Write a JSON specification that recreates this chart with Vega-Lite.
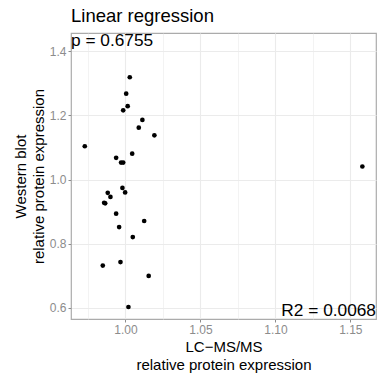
{
  "$schema": "https://vega.github.io/schema/vega-lite/v6.json",
  "width": 305,
  "height": 286,
  "autosize": {"type": "none"},
  "padding": {"left": 71, "top": 33, "right": 9, "bottom": 57},
  "background": "white",
  "title": {
    "text": "Linear regression",
    "anchor": "start",
    "frame": "group",
    "fontSize": 18.5,
    "fontWeight": "normal",
    "font": "Liberation Sans",
    "color": "black",
    "offset": 7
  },
  "config": {
    "view": {"stroke": "#ababab", "strokeWidth": 1.2},
    "axis": {
      "domain": false,
      "labelFont": "Liberation Sans",
      "labelFontSize": 12,
      "labelColor": "#8c8c8c",
      "tickColor": "#8c8c8c",
      "tickSize": 3,
      "labelPadding": 2,
      "gridColor": "#ebebeb",
      "titleFont": "Liberation Sans",
      "titleFontSize": 15,
      "titleFontWeight": "normal",
      "titleColor": "black",
      "titleLineHeight": 18
    }
  },
  "data": {
    "values": [
      {"lcms": 1.0029, "wb": 1.319},
      {"lcms": 1.0005, "wb": 1.268},
      {"lcms": 1.0015, "wb": 1.229},
      {"lcms": 0.9985, "wb": 1.216},
      {"lcms": 1.0113, "wb": 1.186},
      {"lcms": 1.0089, "wb": 1.162},
      {"lcms": 1.0193, "wb": 1.138},
      {"lcms": 0.9729, "wb": 1.104},
      {"lcms": 1.0045, "wb": 1.081},
      {"lcms": 0.9938, "wb": 1.068},
      {"lcms": 0.9971, "wb": 1.053},
      {"lcms": 0.9985, "wb": 1.053},
      {"lcms": 1.158, "wb": 1.041},
      {"lcms": 0.998, "wb": 0.974},
      {"lcms": 0.9998, "wb": 0.96},
      {"lcms": 0.9882, "wb": 0.959},
      {"lcms": 0.99, "wb": 0.946},
      {"lcms": 0.9858, "wb": 0.928},
      {"lcms": 0.9865, "wb": 0.926},
      {"lcms": 0.9938, "wb": 0.894},
      {"lcms": 1.0125, "wb": 0.871},
      {"lcms": 0.9958, "wb": 0.852},
      {"lcms": 1.0049, "wb": 0.821},
      {"lcms": 0.9849, "wb": 0.732},
      {"lcms": 0.9967, "wb": 0.743},
      {"lcms": 1.0155, "wb": 0.7},
      {"lcms": 1.002, "wb": 0.603}
    ]
  },
  "layer": [
    {
      "mark": {"type": "circle", "size": 22, "color": "black", "opacity": 1},
      "encoding": {
        "x": {
          "field": "lcms",
          "type": "quantitative",
          "scale": {"domain": [0.9637, 1.1671], "nice": false, "zero": false},
          "axis": {
            "values": [0.975, 1.0, 1.025, 1.05, 1.075, 1.1, 1.125, 1.15],
            "labelExpr": "abs(round(datum.value*20)-datum.value*20) < 0.001 ? format(datum.value, '.2f') : ''",
            "tickOpacity": {"condition": {"test": "abs(round(datum.value*20)-datum.value*20) < 0.001", "value": 1}, "value": 0},
            "gridWidth": {"condition": {"test": "abs(round(datum.value*20)-datum.value*20) < 0.001", "value": 1.1}, "value": 0.6},
            "title": ["LC−MS/MS", "relative protein expression"],
            "titlePadding": 4
          }
        },
        "y": {
          "field": "wb",
          "type": "quantitative",
          "scale": {"domain": [0.5656, 1.457], "nice": false, "zero": false},
          "axis": {
            "values": [0.6, 0.7, 0.8, 0.9, 1.0, 1.1, 1.2, 1.3, 1.4],
            "labelExpr": "abs(round(datum.value*5)-datum.value*5) < 0.001 ? format(datum.value, '.1f') : ''",
            "tickOpacity": {"condition": {"test": "abs(round(datum.value*5)-datum.value*5) < 0.001", "value": 1}, "value": 0},
            "gridWidth": {"condition": {"test": "abs(round(datum.value*5)-datum.value*5) < 0.001", "value": 1.1}, "value": 0.6},
            "title": ["Western blot", "relative protein expression"],
            "titlePadding": 3
          }
        }
      }
    },
    {
      "data": {"values": [{"label": "p = 0.6755"}]},
      "mark": {"type": "text", "align": "left", "baseline": "top", "fontSize": 17.3, "font": "Liberation Sans", "color": "black", "dy": -1},
      "encoding": {
        "x": {"datum": 0.9637, "type": "quantitative"},
        "y": {"datum": 1.457, "type": "quantitative"},
        "text": {"field": "label"}
      }
    },
    {
      "data": {"values": [{"label": "R2 = 0.0068"}]},
      "mark": {"type": "text", "align": "right", "baseline": "bottom", "fontSize": 17.3, "font": "Liberation Sans", "color": "black", "dy": 1},
      "encoding": {
        "x": {"datum": 1.1671, "type": "quantitative"},
        "y": {"datum": 0.5656, "type": "quantitative"},
        "text": {"field": "label"}
      }
    }
  ]
}
